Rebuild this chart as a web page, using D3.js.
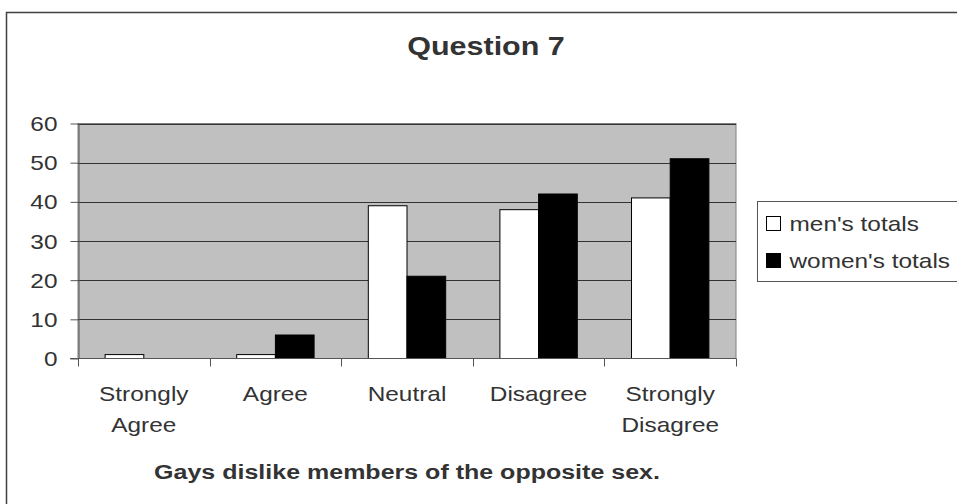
<!DOCTYPE html>
<html>
<head>
<meta charset="utf-8">
<script src="https://cdn.jsdelivr.net/npm/d3@7"></script>
<style>
  html, body { margin: 0; padding: 0; background: #fff; }
  svg { display: block; font-family: "Liberation Sans", Arial, sans-serif; }
</style>
</head>
<body>
<svg id="chart" width="957" height="504"></svg>
<script>
// Survey responses, question 7
const categories = [["Strongly", "Agree"], ["Agree"], ["Neutral"], ["Disagree"], ["Strongly", "Disagree"]];
const categoryKeys = ["Strongly Agree", "Agree", "Neutral", "Disagree", "Strongly Disagree"];
const seriesNames = ["men's totals", "women's totals"];
const menTotals = [1, 1, 39, 38, 41];
const womenTotals = [0, 6, 21, 42, 51];
const yTicks = [0, 10, 20, 30, 40, 50, 60];
const title = "Question 7";
const xTitle = "Gays dislike members of the opposite sex.";

const svg = d3.select("#chart");
const stretch = 1.22; // horizontal widening of the lettering
const textColor = "#333";

const plot = { left: 78, right: 736, top: 123.5, bottom: 358.5 };

// outer chart frame
svg.append("rect")
  .attr("x", 6.5).attr("y", 12.5)
  .attr("width", 1000).attr("height", 1000)
  .attr("fill", "#fff").attr("stroke", "#404040").attr("stroke-width", 1.5);

const x = d3.scaleBand().domain(categoryKeys)
  .range([plot.left, plot.right]).paddingInner(0.412).paddingOuter(0.206);
const xSub = d3.scaleBand().domain(seriesNames).range([0, x.bandwidth()]);
const y = d3.scaleLinear().domain([0, 60]).range([plot.bottom, plot.top]);

// plot background
svg.append("rect")
  .attr("x", plot.left).attr("y", plot.top)
  .attr("width", plot.right - plot.left).attr("height", plot.bottom - plot.top)
  .attr("fill", "#c0c0c0").attr("stroke", "#808080").attr("stroke-width", 1);

// horizontal gridlines
svg.append("g").selectAll("line").data(yTicks.filter(d => d > 0)).join("line")
  .attr("x1", plot.left).attr("x2", plot.right)
  .attr("y1", d => Math.round(y(d)) + 0.5).attr("y2", d => Math.round(y(d)) + 0.5)
  .attr("stroke", "#333").attr("stroke-width", 1);

// bars
const rows = categoryKeys.map((k, i) => ({ key: k, vals: [menTotals[i], womenTotals[i]] }));
const groups = svg.append("g").selectAll("g").data(rows).join("g")
  .attr("transform", d => `translate(${x(d.key)},0)`);
groups.selectAll("rect").data(d => d.vals.map((v, j) => ({ v, s: seriesNames[j] }))).join("rect")
  .filter(d => d.v > 0)
  .attr("x", d => xSub(d.s))
  .attr("y", d => y(d.v))
  .attr("width", xSub.bandwidth())
  .attr("height", d => y(0) - y(d.v))
  .attr("fill", d => d.s === seriesNames[0] ? "#fff" : "#000")
  .attr("stroke", "#000").attr("stroke-width", 1);

// y axis
const yAxis = svg.append("g").attr("transform", `translate(${plot.left + 0.5},0)`)
  .call(d3.axisLeft(y).tickValues(yTicks).tickSize(8).tickSizeOuter(0).tickFormat(d3.format("d")));
yAxis.select(".domain").attr("stroke", "#555");
yAxis.selectAll(".tick line").attr("stroke", "#555");
yAxis.selectAll(".tick text").remove();
yAxis.selectAll(".tick").append("text")
  .attr("transform", `translate(-21,7) scale(${stretch},1)`)
  .attr("text-anchor", "end")
  .attr("font-size", 20).attr("fill", textColor)
  .text(d => d);

// x axis with ticks at category boundaries
const bounds = d3.scaleLinear().domain([0, categoryKeys.length]).range([plot.left, plot.right]);
const xAxis = svg.append("g").attr("transform", `translate(0,${plot.bottom})`);
xAxis.append("line")
  .attr("x1", plot.left - 8).attr("x2", plot.right)
  .attr("y1", 0).attr("y2", 0).attr("stroke", "#555");
xAxis.selectAll("line.tick").data(d3.range(categoryKeys.length + 1)).join("line")
  .attr("class", "tick")
  .attr("x1", d => Math.round(bounds(d)) + 0.5).attr("x2", d => Math.round(bounds(d)) + 0.5)
  .attr("y1", 0).attr("y2", 8).attr("stroke", "#555");

const labels = svg.append("g").selectAll("text").data(categories).join("text")
  .attr("transform", (d, i) => `translate(${x(categoryKeys[i]) + x.bandwidth() / 2},401) scale(${stretch},1)`)
  .attr("text-anchor", "middle").attr("font-size", 20).attr("fill", textColor);
labels.selectAll("tspan").data(d => d).join("tspan")
  .attr("x", 0).attr("dy", (d, i) => i === 0 ? 0 : 31)
  .text(d => d);

// titles
svg.append("text")
  .attr("transform", `translate(486,55) scale(${stretch},1)`)
  .attr("text-anchor", "middle").attr("font-size", 25).attr("font-weight", "bold")
  .attr("fill", textColor).text(title);
svg.append("text")
  .attr("transform", `translate(${(plot.left + plot.right) / 2},479) scale(${stretch},1)`)
  .attr("text-anchor", "middle").attr("font-size", 20.5).attr("font-weight", "bold")
  .attr("fill", textColor).text(xTitle);

// legend
const legend = svg.append("g").attr("transform", "translate(757.5,201.5)");
legend.append("rect").attr("width", 220).attr("height", 80)
  .attr("fill", "#fff").attr("stroke", "#555").attr("stroke-width", 1);
const items = legend.selectAll("g").data(seriesNames).join("g")
  .attr("transform", (d, i) => `translate(0,${i * 37})`);
items.append("rect")
  .attr("x", 9).attr("y", 15).attr("width", 14).attr("height", 14)
  .attr("fill", (d, i) => i === 0 ? "#fff" : "#000").attr("stroke", "#000");
items.append("text")
  .attr("transform", `translate(32,29) scale(${stretch},1)`)
  .attr("font-size", 20).attr("fill", textColor).text(d => d);
</script>
</body>
</html>
